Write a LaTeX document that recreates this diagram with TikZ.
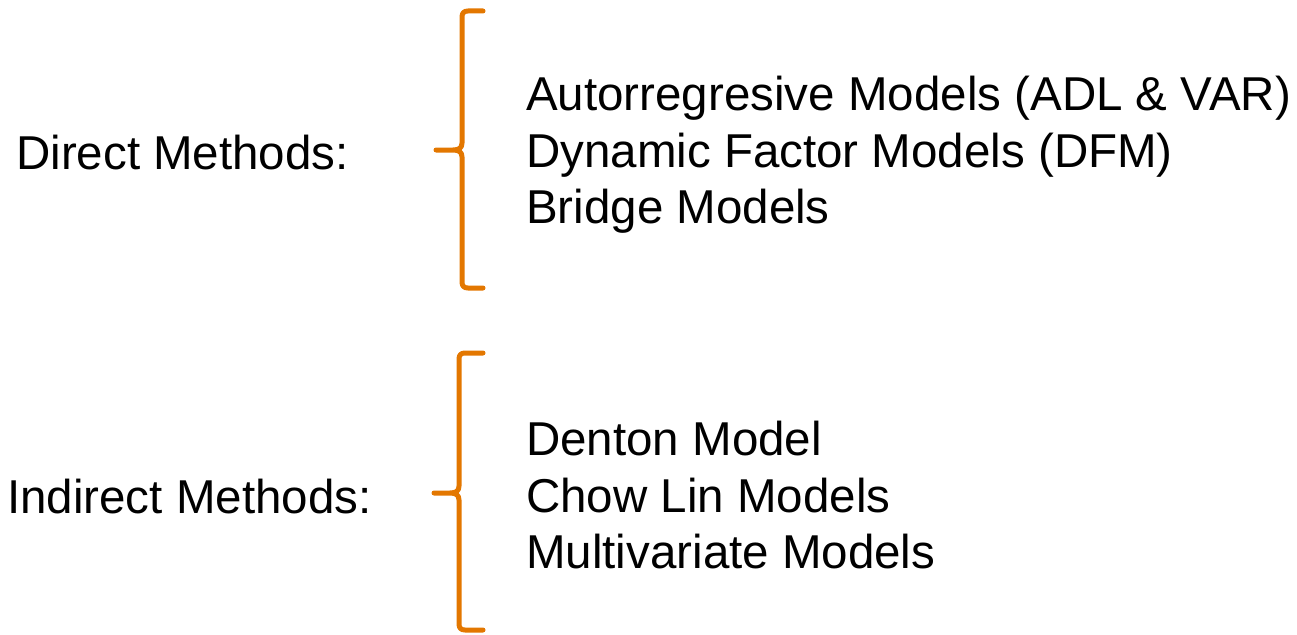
\documentclass[tikz,border=0pt]{standalone}
\usepackage{fontspec}
\setmainfont{Liberation Sans}
\definecolor{braceorange}{RGB}{227,119,0}
\tikzset{
  label/.style={anchor=base west, inner sep=0pt, font=\fontsize{47.5}{57}\selectfont},
  bracket/.style={draw=braceorange, line width=5pt, line cap=round, line join=round}
}
\begin{document}
\begin{tikzpicture}[x=1pt, y=-1pt]
\useasboundingbox (0,0) rectangle (1297,634);

% group headings
\node[label] (direct) at (16,169) {Direct Methods:};
\node[label] (indirect) at (7,513) {Indirect Methods:};

% direct methods
\node[label] (adl) at (526,110) {Autorregresive Models (ADL \& VAR)};
\node[label] (dfm) at (526,167) {Dynamic Factor Models (DFM)};
\node[label] (bridge) at (526,223) {Bridge Models};

% indirect methods
\node[label] (denton) at (526,455) {Denton Model};
\node[label] (chowlin) at (526,512) {Chow Lin Models};
\node[label] (multi) at (526,568) {Multivariate Models};

% brace for direct methods
\coordinate (b1tip) at (436,150);
\draw[bracket] (483,11) -- (468,11) .. controls (464,11) and (462,13) .. (462,17)
  -- (462,143) .. controls (462,148) and (459,150) .. (453,150) -- (b1tip)
  -- (453,150) .. controls (459,150) and (462,152) .. (462,157)
  -- (462,282) .. controls (462,286) and (464,288) .. (468,288) -- (483,288);

% brace for indirect methods
\coordinate (b2tip) at (434,493);
\draw[bracket] (483,353) -- (465,353) .. controls (461,353) and (459,355) .. (459,359)
  -- (459,486) .. controls (459,491) and (456,493) .. (450,493) -- (b2tip)
  -- (450,493) .. controls (456,493) and (459,495) .. (459,500)
  -- (459,624) .. controls (459,628) and (461,630) .. (465,630) -- (483,630);
\end{tikzpicture}
\end{document}
